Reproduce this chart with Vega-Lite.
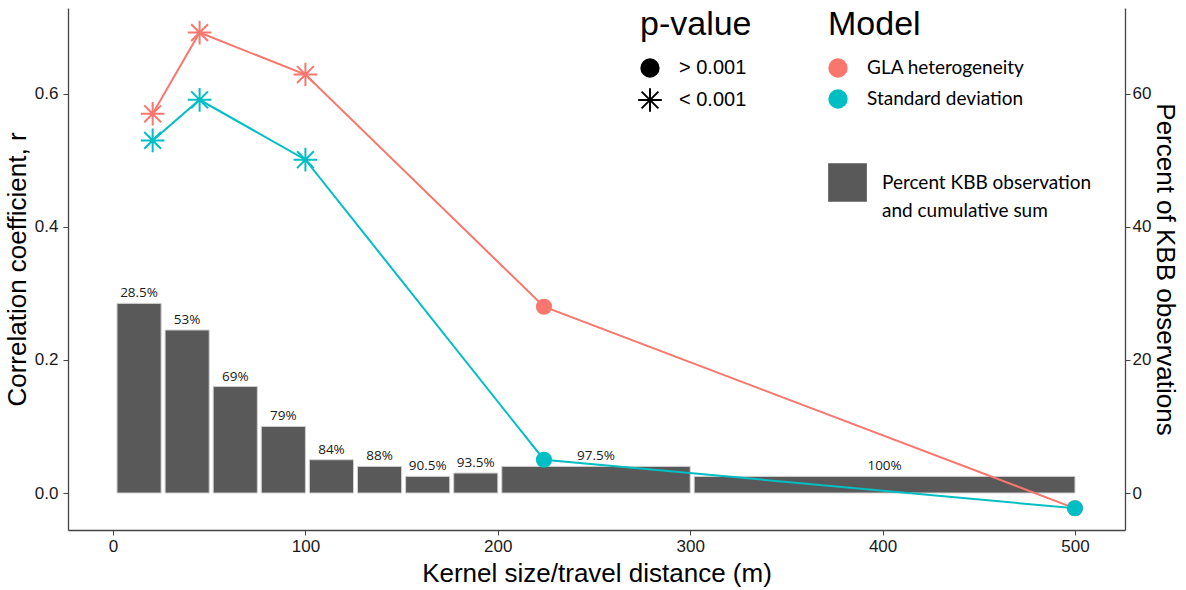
{
  "$schema": "https://vega.github.io/schema/vega-lite/v6.json",
  "autosize": "none",
  "width": 1057,
  "height": 522,
  "padding": {"left": 68, "top": 8, "right": 61, "bottom": 60},
  "background": "white",
  "datasets": {
    "bars": [
      {"start": 0, "end": 25, "mid": 12.5, "pct": 28.5, "cum": "28.5%"},
      {"start": 25, "end": 50, "mid": 37.5, "pct": 24.5, "cum": "53%"},
      {"start": 50, "end": 75, "mid": 62.5, "pct": 16, "cum": "69%"},
      {"start": 75, "end": 100, "mid": 87.5, "pct": 10, "cum": "79%"},
      {"start": 100, "end": 125, "mid": 112.5, "pct": 5, "cum": "84%"},
      {"start": 125, "end": 150, "mid": 137.5, "pct": 4, "cum": "88%"},
      {"start": 150, "end": 175, "mid": 162.5, "pct": 2.5, "cum": "90.5%"},
      {"start": 175, "end": 200, "mid": 187.5, "pct": 3, "cum": "93.5%"},
      {"start": 200, "end": 300, "mid": 250, "pct": 4, "cum": "97.5%"},
      {"start": 300, "end": 500, "mid": 400, "pct": 2.5, "cum": "100%"}
    ],
    "pts": [
      {"model": "GLA heterogeneity", "dist": 20.6, "r": 0.570, "p": "< 0.001"},
      {"model": "GLA heterogeneity", "dist": 45, "r": 0.692, "p": "< 0.001"},
      {"model": "GLA heterogeneity", "dist": 100, "r": 0.629, "p": "< 0.001"},
      {"model": "GLA heterogeneity", "dist": 224, "r": 0.280, "p": "> 0.001"},
      {"model": "GLA heterogeneity", "dist": 500, "r": -0.023, "p": "> 0.001"},
      {"model": "Standard deviation", "dist": 20.6, "r": 0.530, "p": "< 0.001"},
      {"model": "Standard deviation", "dist": 45, "r": 0.591, "p": "< 0.001"},
      {"model": "Standard deviation", "dist": 100, "r": 0.501, "p": "< 0.001"},
      {"model": "Standard deviation", "dist": 224, "r": 0.050, "p": "> 0.001"},
      {"model": "Standard deviation", "dist": 500, "r": -0.023, "p": "> 0.001"}
    ]
  },
  "layer": [
    {
      "data": {"name": "bars"},
      "encoding": {
        "y": {
          "field": "pct", "type": "quantitative",
          "scale": {"domain": [-5.56, 72.9], "nice": false, "zero": false},
          "axis": {"orient": "right", "values": [0, 20, 40, 60], "title": "Percent of KBB observations", "labelPadding": 2, "labelFontSize": 17, "titlePadding": 1}
        }
      },
      "layer": [
        {
          "mark": {"type": "bar", "xOffset": 4, "stroke": "#cfcfcf", "strokeWidth": 1},
          "encoding": {
            "x": {"field": "start", "type": "quantitative"},
            "x2": {"field": "end"},
            "y2": {"datum": 0},
            "fill": {
              "datum": "Percent KBB observation|and cumulative sum",
              "scale": {"range": ["#595959"]},
              "legend": {
                "orient": "none", "legendX": 760, "legendY": 155, "title": null,
                "symbolType": "square", "symbolSize": 1500, "symbolStrokeWidth": 0,
                "labelFont": "Lato", "labelFontSize": 19, "labelColor": "#000", "labelOffset": 15, "labelLimit": 400,
                "labelExpr": "split(datum.label, '|')",
                "encode": {"labels": {
                  "enter": {"lineHeight": {"value": 28}},
                  "update": {"lineHeight": {"value": 28}, "baseline": {"value": "alphabetic"}, "dy": {"value": 7}}
                }}
              }
            }
          }
        },
        {
          "mark": {"type": "text", "font": "Open Sans", "fontSize": 13.5, "color": "#1a1a1a", "baseline": "alphabetic", "dy": -6, "xOffset": 2},
          "encoding": {
            "x": {"field": "mid", "type": "quantitative"},
            "text": {"field": "cum"}
          }
        }
      ]
    },
    {
      "data": {"name": "pts"},
      "encoding": {
        "x": {
          "field": "dist", "type": "quantitative",
          "scale": {"domain": [-23.4, 526], "nice": false, "zero": false},
          "axis": {"values": [0, 100, 200, 300, 400, 500], "title": "Kernel size/travel distance (m)", "labelPadding": 3, "titlePadding": 6}
        },
        "y": {
          "field": "r", "type": "quantitative",
          "scale": {"domain": [-0.0556, 0.729], "nice": false, "zero": false},
          "axis": {"orient": "left", "values": [0, 0.2, 0.4, 0.6], "format": ".1f", "title": "Correlation coefficient, r", "labelPadding": 5, "titlePadding": 4}
        },
        "color": {
          "field": "model", "type": "nominal",
          "scale": {"domain": ["GLA heterogeneity", "Standard deviation"], "range": ["#F8766D", "#00BFC4"]},
          "legend": {
            "orient": "none", "legendX": 760, "legendY": 0, "title": "Model",
            "titleFont": "Liberation Sans", "titleFontSize": 34, "titleFontWeight": "normal", "titleColor": "#000", "titlePadding": 16,
            "labelFont": "Lato", "labelFontSize": 19, "labelColor": "#000", "labelOffset": 19, "labelLimit": 300,
            "symbolType": "circle", "symbolSize": 320, "rowPadding": 7,
            "encode": {"symbols": {"update": {"fill": {"scale": "color", "field": "value"}, "stroke": {"value": "transparent"}, "shape": {"value": "circle"}, "opacity": {"value": 1}}}}
          }
        }
      },
      "layer": [
        {
          "mark": {"type": "line", "strokeWidth": 2}
        },
        {
          "transform": [{"filter": "datum.p == '> 0.001'"}],
          "mark": {"type": "point", "filled": true, "size": 260, "opacity": 1},
          "encoding": {
            "shape": {
              "field": "p", "type": "nominal",
              "scale": {"domain": ["> 0.001", "< 0.001"], "range": ["circle", "M-1,0L1,0M0,-1L0,1M-0.71,-0.71L0.71,0.71M-0.71,0.71L0.71,-0.71"]},
              "legend": {
                "orient": "none", "legendX": 572, "legendY": 0, "title": "p-value",
                "titleFont": "Liberation Sans", "titleFontSize": 34, "titleFontWeight": "normal", "titleColor": "#000", "titlePadding": 16,
                "labelFont": "Liberation Sans", "labelFontSize": 20, "labelColor": "#000", "labelOffset": 19,
                "symbolSize": 320, "rowPadding": 3,
                "symbolFillColor": "black", "symbolStrokeColor": "black", "symbolStrokeWidth": 2, "symbolOpacity": 1,
                "encode": {"symbols": {
                  "enter": {"stroke": {"value": "black"}, "strokeWidth": {"value": 2}},
                  "update": {"fill": {"value": "black"}, "stroke": {"value": "black"}, "strokeWidth": {"value": 2}, "opacity": {"value": 1}, "size": {"signal": "datum.value == '< 0.001' ? 560 : 300"}}
                }}
              }
            }
          }
        },
        {
          "transform": [{"filter": "datum.p == '< 0.001'"}],
          "mark": {"type": "point", "filled": false, "size": 560, "strokeWidth": 2, "opacity": 1},
          "encoding": {
            "shape": {
              "field": "p", "type": "nominal",
              "scale": {"domain": ["> 0.001", "< 0.001"], "range": ["circle", "M-1,0L1,0M0,-1L0,1M-0.71,-0.71L0.71,0.71M-0.71,0.71L0.71,-0.71"]},
              "legend": {
                "orient": "none", "legendX": 572, "legendY": 0, "title": "p-value",
                "titleFont": "Liberation Sans", "titleFontSize": 34, "titleFontWeight": "normal", "titleColor": "#000", "titlePadding": 16,
                "labelFont": "Liberation Sans", "labelFontSize": 20, "labelColor": "#000", "labelOffset": 19,
                "symbolSize": 320, "rowPadding": 3,
                "symbolFillColor": "black", "symbolStrokeColor": "black", "symbolStrokeWidth": 2, "symbolOpacity": 1,
                "encode": {"symbols": {
                  "enter": {"stroke": {"value": "black"}, "strokeWidth": {"value": 2}},
                  "update": {"fill": {"value": "black"}, "stroke": {"value": "black"}, "strokeWidth": {"value": 2}, "opacity": {"value": 1}, "size": {"signal": "datum.value == '< 0.001' ? 560 : 300"}}
                }}
              }
            }
          }
        }
      ]
    }
  ],
  "resolve": {"scale": {"y": "independent"}, "axis": {"y": "independent"}},
  "config": {
    "view": {"stroke": null},
    "style": {"guide-label": {"lineHeight": 28}},
    "axis": {
      "grid": false,
      "domainColor": "#444444", "domainWidth": 1.3,
      "tickColor": "#444444", "tickSize": 5,
      "labelFont": "Liberation Sans", "labelFontSize": 17, "labelColor": "#1a1a1a",
      "titleFont": "Liberation Sans", "titleFontSize": 26, "titleFontWeight": "normal", "titleColor": "#000"
    },
    "legend": {"padding": 0}
  }
}
